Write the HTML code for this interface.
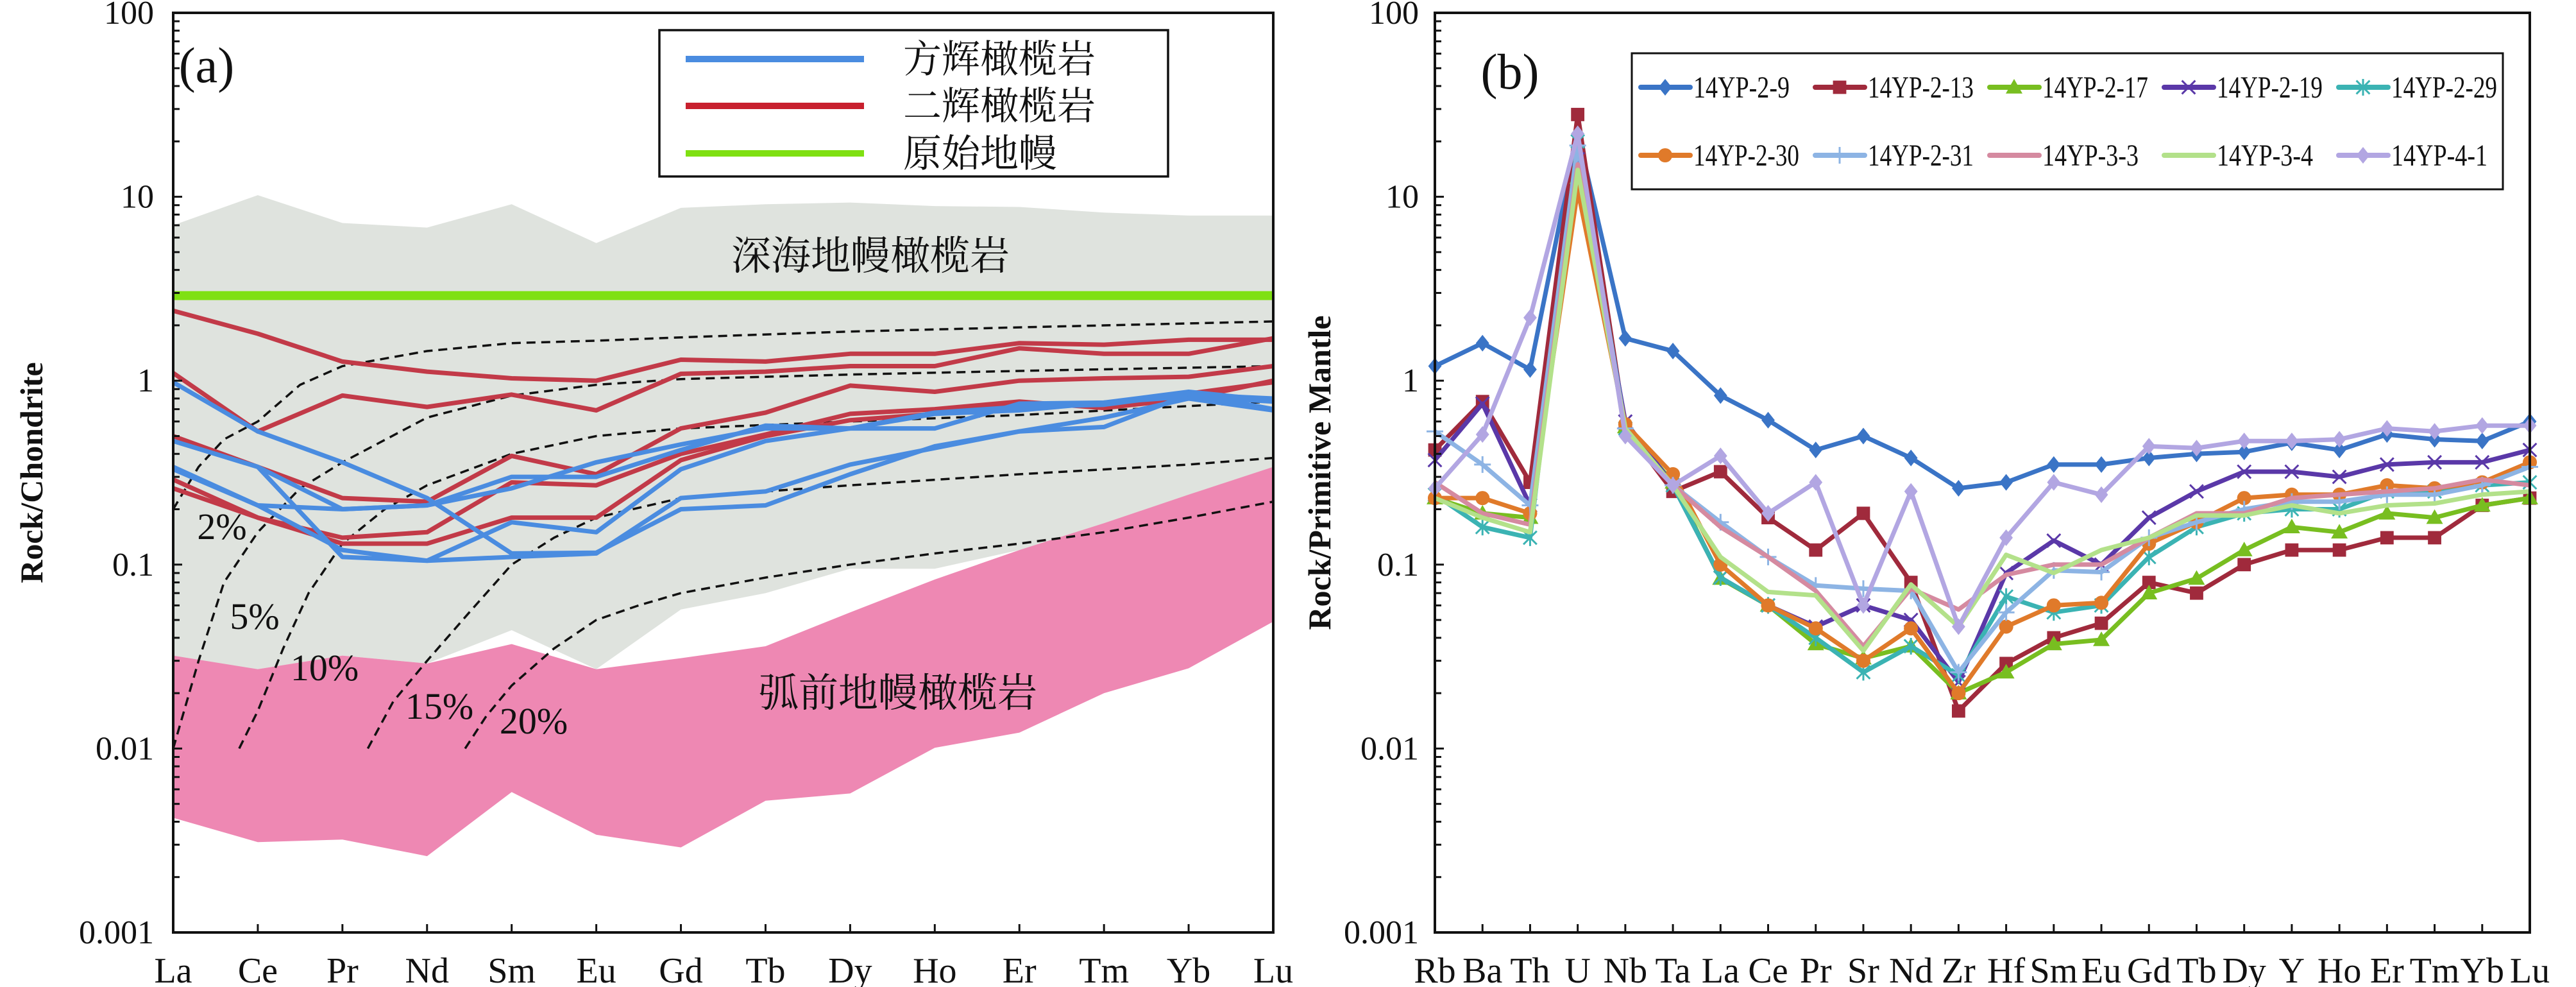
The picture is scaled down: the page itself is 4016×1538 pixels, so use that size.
<!DOCTYPE html>
<html><head><meta charset="utf-8"><style>
html,body{margin:0;padding:0;background:#fff;}
svg{display:block;font-family:"Liberation Serif","Noto Serif CJK SC",serif;}
</style></head><body>
<svg id="chart" width="4016" height="1538" viewBox="0 0 4016 1538" xmlns="http://www.w3.org/2000/svg">
<g id="panelA"></g>
<g id="panelB"></g>
</svg>
<script>
// ---------- Panel (a) data ----------
const reeCats = ["La","Ce","Pr","Nd","Sm","Eu","Gd","Tb","Dy","Ho","Er","Tm","Yb","Lu"];
const yTicks = [100,10,1,0.1,0.01,0.001];
const yTickLabels = ["100","10","1","0.1","0.01","0.001"];
const abyssalUpper = [7.0,10.2,7.2,6.8,9.1,5.6,8.7,9.1,9.3,8.9,8.8,8.2,7.9,7.9];
const abyssalLower = [0.031,0.027,0.032,0.029,0.044,0.027,0.057,0.07,0.095,0.095,0.12,0.15,0.2,0.25];
const forearcUpper = [0.032,0.027,0.032,0.029,0.037,0.027,0.031,0.036,0.055,0.083,0.12,0.168,0.24,0.34];
const forearcLower = [0.0042,0.0031,0.0032,0.0026,0.0058,0.0034,0.0029,0.0052,0.0057,0.0101,0.0122,0.02,0.0273,0.049];
const primitiveMantle = 2.9;
const harz1 = [0.98,0.53,0.36,0.23,0.115,0.116,0.2,0.21,0.31,0.44,0.53,0.56,0.84,0.8];
const harz2 = [0.47,0.34,0.2,0.21,0.3,0.3,0.42,0.57,0.55,0.55,0.75,0.76,0.87,0.78];
const harz3 = [0.34,0.21,0.2,0.21,0.26,0.36,0.45,0.55,0.55,0.66,0.69,0.76,0.82,0.77];
const harz4 = [0.47,0.34,0.11,0.105,0.17,0.15,0.33,0.47,0.55,0.67,0.72,0.74,0.85,0.7];
const harz5 = [0.33,0.21,0.12,0.105,0.11,0.115,0.23,0.25,0.35,0.43,0.53,0.63,0.8,0.69];
const lherz1 = [2.4,1.8,1.27,1.12,1.03,1.0,1.3,1.27,1.4,1.4,1.6,1.57,1.67,1.67];
const lherz2 = [1.1,0.53,0.83,0.72,0.84,0.69,1.09,1.12,1.2,1.2,1.5,1.4,1.4,1.7];
const lherz3 = [0.5,0.34,0.23,0.22,0.39,0.31,0.55,0.67,0.94,0.87,1.0,1.03,1.05,1.2];
const lherz4 = [0.29,0.18,0.14,0.15,0.28,0.27,0.4,0.51,0.66,0.7,0.77,0.71,0.8,1.0];
const lherz5 = [0.26,0.18,0.13,0.13,0.18,0.18,0.37,0.5,0.61,0.66,0.75,0.75,0.85,0.98];
// melting curves: positions in category units and values
const melt2X = [0,0.3,0.6,1,1.5,2,3,4,5,6,8,10,13];
const melt2V = [0.2,0.34,0.48,0.6,0.95,1.2,1.45,1.6,1.65,1.72,1.85,1.95,2.1];
const melt5X = [0,0.3,0.6,1,1.5,2,3,4,5,6,8,10,13];
const melt5V = [0.01,0.03,0.08,0.15,0.26,0.36,0.63,0.83,0.95,1.02,1.08,1.13,1.2];
const melt10X = [0.78,1,1.3,1.6,2,2.5,3,4,5,6,8,10,13];
const melt10V = [0.01,0.016,0.035,0.07,0.13,0.2,0.27,0.4,0.5,0.55,0.6,0.65,0.77];
const melt15X = [2.3,2.6,3,3.5,4,4.5,5,6,7,8,10,12,13];
const melt15V = [0.01,0.018,0.03,0.055,0.1,0.14,0.18,0.23,0.25,0.27,0.31,0.35,0.38];
const melt20X = [3.45,3.7,4,4.5,5,5.5,6,7,8,9,10,11,12,13];
const melt20V = [0.01,0.015,0.022,0.035,0.05,0.06,0.07,0.085,0.1,0.115,0.13,0.15,0.18,0.22];
const meltLabels = ["2%","5%","10%","15%","20%"];

// ---------- Panel (b) data ----------
const spiderCats = ["Rb","Ba","Th","U","Nb","Ta","La","Ce","Pr","Sr","Nd","Zr","Hf","Sm","Eu","Gd","Tb","Dy","Y","Ho","Er","Tm","Yb","Lu"];
const sampleNames = ["14YP-2-9","14YP-2-13","14YP-2-17","14YP-2-19","14YP-2-29","14YP-2-30","14YP-2-31","14YP-3-3","14YP-3-4","14YP-4-1"];
const s2_9  = [1.2,1.6,1.15,22,1.7,1.45,0.83,0.61,0.42,0.5,0.38,0.26,0.28,0.35,0.35,0.38,0.4,0.41,0.46,0.42,0.51,0.48,0.47,0.6];
const s2_13 = [0.42,0.77,0.28,28,0.55,0.25,0.32,0.18,0.12,0.19,0.08,0.016,0.029,0.04,0.048,0.08,0.07,0.1,0.12,0.12,0.14,0.14,0.21,0.23];
const s2_17 = [0.23,0.19,0.18,12.7,0.56,0.28,0.084,0.06,0.037,0.031,0.036,0.02,0.026,0.037,0.039,0.07,0.084,0.12,0.16,0.15,0.19,0.18,0.21,0.23];
const s2_19 = [0.37,0.75,0.21,16,0.6,0.27,0.085,0.06,0.046,0.06,0.05,0.023,0.09,0.135,0.1,0.18,0.25,0.32,0.32,0.3,0.35,0.36,0.36,0.42];
const s2_29 = [0.24,0.16,0.14,20,0.55,0.27,0.085,0.06,0.04,0.026,0.036,0.025,0.067,0.055,0.06,0.11,0.16,0.19,0.2,0.2,0.25,0.25,0.27,0.28];
const s2_30 = [0.23,0.23,0.19,10.9,0.58,0.31,0.1,0.06,0.045,0.03,0.045,0.02,0.046,0.06,0.062,0.13,0.17,0.23,0.24,0.24,0.27,0.26,0.28,0.36];
const s2_31 = [0.53,0.35,0.21,19,0.55,0.27,0.17,0.11,0.077,0.074,0.072,0.026,0.055,0.093,0.091,0.14,0.17,0.2,0.22,0.22,0.24,0.24,0.27,0.34];
const s3_3  = [0.28,0.19,0.165,15,0.55,0.27,0.16,0.11,0.072,0.036,0.074,0.057,0.088,0.1,0.1,0.14,0.19,0.19,0.23,0.24,0.25,0.26,0.29,0.27];
const s3_4  = [0.23,0.18,0.15,14,0.55,0.27,0.11,0.071,0.068,0.034,0.078,0.046,0.113,0.09,0.12,0.14,0.185,0.185,0.21,0.19,0.21,0.215,0.24,0.25];
const s4_1  = [0.26,0.51,2.2,22,0.5,0.27,0.39,0.19,0.28,0.06,0.25,0.046,0.14,0.28,0.24,0.44,0.43,0.47,0.47,0.48,0.55,0.53,0.57,0.57];

const NS = "http://www.w3.org/2000/svg";
function mk(parent, tag, attrs, text){
  const e = document.createElementNS(NS, tag);
  for (const k in attrs) e.setAttribute(k, attrs[k]);
  if (text !== undefined) e.textContent = text;
  parent.appendChild(e);
  return e;
}
const Y0 = 20, DEC = 286.6;
function yScale(v){ return Y0 + (2 - Math.log10(v)) * DEC; }

// ================= PANEL A =================
const gA = document.getElementById('panelA');
const AX0 = 270, AX1 = 1985;
const aStep = (AX1 - AX0) / (reeCats.length - 1);
function xA(i){ return AX0 + i * aStep; }
function polyPts(xs, vs, xf){ return xs.map((x,i)=> xf(x).toFixed(1)+","+yScale(vs[i]).toFixed(1)).join(" "); }
const idx = reeCats.map((c,i)=>i);

const abyssal = mk(gA,'polygon',{points: polyPts(idx, abyssalUpper, xA) + " " + polyPts(idx.slice().reverse(), abyssalLower.slice().reverse(), xA), fill:'#DFE3DE'});


const forearc = mk(gA,'polygon',{points: polyPts(idx, forearcUpper, xA) + " " + polyPts(idx.slice().reverse(), forearcLower.slice().reverse(), xA), fill:'#EE88B3'});



const t1 = mk(gA,'text',{x:1357,y:420,'font-size':62,'text-anchor':'middle',fill:'#111'},'深海地幔橄榄岩');


const t2 = mk(gA,'text',{x:1400,y:1101,'font-size':62,'text-anchor':'middle',fill:'#111'},'弧前地幔橄榄岩');



const pm = mk(gA,'line',{x1:AX0,x2:AX1,y1:yScale(primitiveMantle),y2:yScale(primitiveMantle),stroke:'#7FE012','stroke-width':14});



const meltX = [melt2X,melt5X,melt10X,melt15X,melt20X];
const meltV = [melt2V,melt5V,melt10V,melt15V,melt20V];
meltX.forEach((xs,k)=>{
  const d = xs.map((x,i)=>(i?'L':'M')+xA(x).toFixed(1)+","+yScale(meltV[k][i]).toFixed(1)).join(" ");
  const p = mk(gA,'path',{d:d,fill:'none',stroke:'#111','stroke-width':3.5,'stroke-dasharray':'14 9'});
  
  
});
const meltLabelPos = [[346,840],[397,980],[506,1060],[685,1120],[832,1143]];
meltLabels.forEach((l,k)=>{
  const t = mk(gA,'text',{x:meltLabelPos[k][0],y:meltLabelPos[k][1],'font-size':58,'text-anchor':'middle',fill:'#111'},l);
  
  
});

const lherzs = [lherz1,lherz2,lherz3,lherz4,lherz5];
lherzs.forEach((s,k)=>{
  const p = mk(gA,'polyline',{points:polyPts(idx,s,xA),fill:'none',stroke:'#C23A48','stroke-width':7,'stroke-linejoin':'round'});
  
  
});
const harzs = [harz1,harz2,harz3,harz4,harz5];
harzs.forEach((s,k)=>{
  const p = mk(gA,'polyline',{points:polyPts(idx,s,xA),fill:'none',stroke:'#4A8CE0','stroke-width':7,'stroke-linejoin':'round'});
  
  
});

function drawAxes(g, x0, x1, cats, xf, prefix, ytitle, ytitleX, tickLabelX){
  const frame = mk(g,'rect',{x:x0,y:Y0,width:x1-x0,height:yScale(0.001)-Y0,fill:'none',stroke:'#111','stroke-width':4});
  
  
  for (let e=-3;e<2;e++){
    for (let m=2;m<=9;m++){
      const y = yScale(m*Math.pow(10,e));
      mk(g,'line',{x1:x0,x2:x0+10,y1:y,y2:y,stroke:'#111','stroke-width':3});
    }
  }
  yTicks.forEach((v,i)=>{
    const y = yScale(v);
    mk(g,'line',{x1:x0,x2:x0+14,y1:y,y2:y,stroke:'#111','stroke-width':3});
    const t = mk(g,'text',{x:tickLabelX,y:y+17,'font-size':52,'text-anchor':'end',fill:'#111'},yTickLabels[i]);
    
    
  });
  const yb = yScale(0.001);
  cats.forEach((c,i)=>{
    const x = xf(i);
    if (i>0) mk(g,'line',{x1:x,x2:x,y1:yb,y2:yb-13,stroke:'#111','stroke-width':3});
    const t = mk(g,'text',{x:x,y:1531,'font-size':56,'text-anchor':'middle',fill:'#111'},c);
    
    
  });
  const cy = (Y0+yb)/2;
  const yt = mk(g,'text',{x:ytitleX,y:cy,'font-size':50,'font-weight':'bold','text-anchor':'middle',fill:'#111',transform:'rotate(-90 '+ytitleX+' '+cy+')'},ytitle);
  
  
}
drawAxes(gA, AX0, AX1, reeCats, xA, 'panel-a', 'Rock/Chondrite', 66, 240);

const la = mk(gA,'text',{x:322,y:128,'font-size':78,'text-anchor':'middle',fill:'#111'},'(a)');



const legA = mk(gA,'g',{});


mk(legA,'rect',{x:1028,y:47,width:793,height:228,fill:'#fff',stroke:'#111','stroke-width':3.5});
const legAItems = [['方辉橄榄岩','#4A8CE0',92],['二辉橄榄岩','#C8202E',165],['原始地幔','#7FE012',239]];
legAItems.forEach((it,k)=>{
  const ge = mk(legA,'g',{});
  
  
  mk(ge,'line',{x1:1069,x2:1347,y1:it[2],y2:it[2],stroke:it[1],'stroke-width':10});
  mk(ge,'text',{x:1408,y:it[2]+21,'font-size':60,fill:'#111'},it[0]);
});

// ================= PANEL B =================
const gB = document.getElementById('panelB');
const BX0 = 2237, BX1 = 3944;
const bStep = (BX1 - BX0) / (spiderCats.length - 1);
function xB(i){ return BX0 + i * bStep; }
const bidx = spiderCats.map((c,i)=>i);
const series = [s2_9,s2_13,s2_17,s2_19,s2_29,s2_30,s2_31,s3_3,s3_4,s4_1];
const colors = ['#3A74C6','#A02A3C','#78BE20','#5A38A8','#3BB3B3','#E07A2A','#8DB4E4','#D58AA0','#B3E18A','#B2A6E2'];
const markers = ['diamond','square','triangle','x','star','circle','plus','none','none','diamond'];

function drawMarker(g, type, x, y, color, sz){
  const s = sz;
  if (type==='diamond') mk(g,'polygon',{points:`${x},${y-s} ${x+s*0.8},${y} ${x},${y+s} ${x-s*0.8},${y}`,fill:color});
  else if (type==='square') mk(g,'rect',{x:x-s*0.8,y:y-s*0.8,width:s*1.6,height:s*1.6,fill:color});
  else if (type==='triangle') mk(g,'polygon',{points:`${x},${y-s} ${x+s},${y+s*0.75} ${x-s},${y+s*0.75}`,fill:color});
  else if (type==='circle') mk(g,'circle',{cx:x,cy:y,r:s*0.85,fill:color});
  else if (type==='x'){ mk(g,'path',{d:`M${x-s*0.8},${y-s*0.8}L${x+s*0.8},${y+s*0.8}M${x-s*0.8},${y+s*0.8}L${x+s*0.8},${y-s*0.8}`,stroke:color,'stroke-width':3}); }
  else if (type==='plus'){ mk(g,'path',{d:`M${x-s},${y}L${x+s},${y}M${x},${y-s}L${x},${y+s}`,stroke:color,'stroke-width':3}); }
  else if (type==='star'){ mk(g,'path',{d:`M${x-s*0.8},${y-s*0.8}L${x+s*0.8},${y+s*0.8}M${x-s*0.8},${y+s*0.8}L${x+s*0.8},${y-s*0.8}M${x},${y-s}L${x},${y+s}`,stroke:color,'stroke-width':3}); }
}

series.forEach((s,k)=>{
  const g = mk(gB,'g',{});
  
  
  mk(g,'polyline',{points:polyPts(bidx,s,xB),fill:'none',stroke:colors[k],'stroke-width':7,'stroke-linejoin':'round'});
  s.forEach((v,i)=>{ drawMarker(g, markers[k], xB(i), yScale(v), colors[k], 13); });
});

drawAxes(gB, BX0, BX1, spiderCats, xB, 'panel-b', 'Rock/Primitive Mantle', 2074, 2212);

const lb = mk(gB,'text',{x:2354,y:138,'font-size':78,'text-anchor':'middle',fill:'#111'},'(b)');



const legB = mk(gB,'g',{});


mk(legB,'rect',{x:2544,y:83,width:1358,height:212,fill:'#fff',stroke:'#111','stroke-width':3});
sampleNames.forEach((n,k)=>{
  const col = k%5, row = Math.floor(k/5);
  const x = 2558 + col*272, y = row ? 242 : 136;
  const ge = mk(legB,'g',{});
  
  
  mk(ge,'line',{x1:x,x2:x+77,y1:y,y2:y,stroke:colors[k],'stroke-width':8,'stroke-linecap':'round'});
  drawMarker(ge, markers[k], x+38, y, colors[k], 13);
  const len = n.length>=10 ? 183 : (n.length===9 ? 165 : 150);
  mk(ge,'text',{x:x+82,y:y+16,'font-size':48,fill:'#111',textLength:len,lengthAdjust:'spacingAndGlyphs'},n);
});
</script>
</body></html>
